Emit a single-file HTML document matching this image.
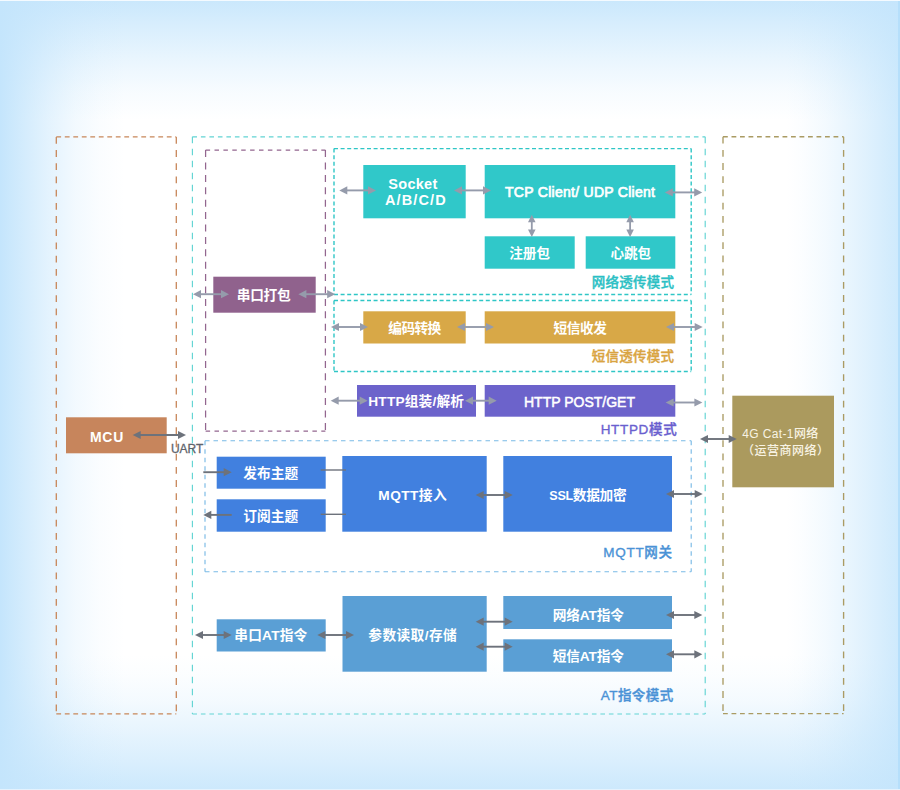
<!DOCTYPE html>
<html lang="zh-CN">
<head>
<meta charset="utf-8">
<title>4G Cat-1 DTU 工作模式框图</title>
<style>
html,body{margin:0;padding:0;}
body{width:900px;height:790px;overflow:hidden;background:#fff;font-family:"Liberation Sans", "Noto Sans CJK SC", sans-serif;}
.bg{position:absolute;left:0;top:0;width:900px;height:790px;background:
 linear-gradient(to right, rgba(196,229,252,1) 0px, rgba(196,229,252,0.72) 25px, rgba(196,229,252,0.45) 50px, rgba(196,229,252,0.22) 75px, rgba(196,229,252,0.08) 100px, rgba(196,229,252,0) 125px),
 linear-gradient(to left, rgba(196,229,252,0.84) 0px, rgba(196,229,252,0.64) 22px, rgba(196,229,252,0.43) 46px, rgba(196,229,252,0.2) 74px, rgba(196,229,252,0.06) 98px, rgba(196,229,252,0) 114px),
 linear-gradient(to bottom, rgba(196,229,252,0.9) 0px, rgba(196,229,252,0.62) 30px, rgba(196,229,252,0.36) 60px, rgba(196,229,252,0.14) 90px, rgba(196,229,252,0) 120px),
 linear-gradient(to top, rgba(196,229,252,0.86) 0px, rgba(196,229,252,0.62) 30px, rgba(196,229,252,0.4) 60px, rgba(196,229,252,0.18) 90px, rgba(196,229,252,0.06) 115px, rgba(196,229,252,0) 135px),
 #fff;}
.edge{position:absolute;}
svg{position:absolute;left:0;top:0;}
svg text{font-family:"Liberation Sans", "Noto Sans CJK SC", sans-serif;}
</style>
</head>
<body>
<div class="bg"></div>
<div class="edge" style="left:898px;top:0;width:2px;height:790px;background:#b6dffb"></div>
<div class="edge" style="left:0;top:0;width:900px;height:1px;background:#f4faff"></div>
<div class="edge" style="left:0;top:789px;width:900px;height:1px;background:#e4f2fd"></div>
<svg width="900" height="790" viewBox="0 0 900 790">
<g fill="none" stroke="#c8875a" stroke-width="1.3" stroke-opacity="1">
<path d="M56.3 136.9H176.3M56.3 713.9H176.3" stroke-dasharray="4.8 3.7"/>
<path d="M56.3 136.9V713.9M176.3 136.9V713.9" stroke-dasharray="6.8 6.4"/>
</g>
<g fill="none" stroke="#62d4d3" stroke-width="1.15" stroke-opacity="1">
<path d="M192.4 136.8H705.2M192.4 714H705.2" stroke-dasharray="4.6 3.9"/>
<path d="M192.4 136.8V714M705.2 136.8V714" stroke-dasharray="6.5 5.5"/>
</g>
<g fill="none" stroke="#aa9b63" stroke-width="1.35" stroke-opacity="1">
<path d="M723 136.7H843.6M723 713.6H843.6" stroke-dasharray="4.8 3.7"/>
<path d="M723 136.7V713.6M843.6 136.7V713.6" stroke-dasharray="6.8 6.4"/>
</g>
<g fill="none" stroke="#93668f" stroke-width="1.25" stroke-opacity="1">
<path d="M205.6 150.1H325.4M205.6 431H325.4" stroke-dasharray="4.5 4.4"/>
<path d="M205.6 150.1V431M325.4 150.1V431" stroke-dasharray="7 5.4"/>
</g>
<g fill="none" stroke="#2fc6c6" stroke-width="1.4" stroke-opacity="1">
<path d="M334 148.6H691.2M334 294.5H691.2" stroke-dasharray="4 2.6"/>
<path d="M334 148.6V294.5M691.2 148.6V294.5" stroke-dasharray="4 2.6"/>
</g>
<g fill="none" stroke="#2fc6c6" stroke-width="1.4" stroke-opacity="1">
<path d="M334 300.5H691.2M334 371.5H691.2" stroke-dasharray="4 2.6"/>
<path d="M334 300.5V371.5M691.2 300.5V371.5" stroke-dasharray="4 2.6"/>
</g>
<g fill="none" stroke="#7abae6" stroke-width="1.15" stroke-opacity="1">
<path d="M205 440.7H691.2M205 571.7H691.2" stroke-dasharray="4.5 4"/>
<path d="M205 440.7V571.7M691.2 440.7V571.7" stroke-dasharray="4.5 4"/>
</g>
<rect x="66" y="417.3" width="100.7" height="36.0" fill="#c7855c"/>
<rect x="213.3" y="276.7" width="102.4" height="36.0" fill="#90628d"/>
<rect x="363.3" y="165" width="102.4" height="53.3" fill="#30c8c9"/>
<rect x="484.7" y="165" width="190.6" height="53.3" fill="#30c8c9"/>
<rect x="484.7" y="236.3" width="90.0" height="32.4" fill="#30c8c9"/>
<rect x="585.7" y="236.3" width="89.6" height="32.4" fill="#30c8c9"/>
<rect x="363.3" y="311.3" width="102.4" height="32.2" fill="#d8a847"/>
<rect x="484.7" y="311.3" width="190.6" height="32.2" fill="#d8a847"/>
<rect x="357" y="385" width="119" height="31.7" fill="#6c63cb"/>
<rect x="484.7" y="385" width="190.6" height="31.7" fill="#6c63cb"/>
<rect x="216.7" y="456.7" width="109.0" height="32.0" fill="#4180df"/>
<rect x="216.7" y="499.3" width="109.0" height="32.4" fill="#4180df"/>
<rect x="342.3" y="456" width="144.4" height="75.7" fill="#4180df"/>
<rect x="503.3" y="456" width="168.7" height="75.7" fill="#4180df"/>
<rect x="216.7" y="619.3" width="109.0" height="32.2" fill="#5a9fd5"/>
<rect x="342.5" y="596" width="144.2" height="75.7" fill="#5a9fd5"/>
<rect x="503.3" y="596" width="168.7" height="33" fill="#5a9fd5"/>
<rect x="503.3" y="639.3" width="168.7" height="32.4" fill="#5a9fd5"/>
<rect x="732.3" y="395.7" width="101.7" height="91.6" fill="#ab9a5e"/>
<text x="90" y="441.71" font-size="14" fill="#fff" font-weight="bold" textLength="33.3" lengthAdjust="spacing" >MCU</text>
<text x="236.7" y="300.21" font-size="13.7" fill="#fff" font-weight="bold" textLength="54.0" lengthAdjust="spacing" >串口打包</text>
<text x="388.3" y="189.49" font-size="14.5" fill="#fff" font-weight="bold" textLength="49.0" lengthAdjust="spacing" >Socket</text>
<text x="385" y="205.19" font-size="14.5" fill="#fff" font-weight="bold" textLength="60.7" lengthAdjust="spacing" >A/B/C/D</text>
<text x="505" y="197.01" font-size="14" fill="#fff" font-weight="normal" textLength="150" lengthAdjust="spacing" stroke="#fff" stroke-width="0.7">TCP Client/ UDP Client</text>
<text x="509.3" y="257.91" font-size="13.7" fill="#fff" font-weight="bold" textLength="40.7" lengthAdjust="spacing" >注册包</text>
<text x="610.5" y="257.91" font-size="13.7" fill="#fff" font-weight="bold" textLength="40.5" lengthAdjust="spacing" >心跳包</text>
<text x="388.3" y="333.21" font-size="13.7" fill="#fff" font-weight="bold" textLength="53.0" lengthAdjust="spacing" >编码转换</text>
<text x="553.5" y="333.21" font-size="13.7" fill="#fff" font-weight="bold" textLength="53.5" lengthAdjust="spacing" >短信收发</text>
<text x="368.3" y="405.91" font-size="13.7" fill="#fff" font-weight="bold" textLength="95.7" lengthAdjust="spacing" >HTTP组装/解析</text>
<text x="524" y="406.71" font-size="14" fill="#fff" font-weight="normal" textLength="111" lengthAdjust="spacing" stroke="#fff" stroke-width="0.5">HTTP POST/GET</text>
<text x="243.3" y="477.91" font-size="13.7" fill="#fff" font-weight="bold" textLength="55.0" lengthAdjust="spacing" >发布主题</text>
<text x="243.3" y="520.91" font-size="13.7" fill="#fff" font-weight="bold" textLength="55.0" lengthAdjust="spacing" >订阅主题</text>
<text x="378.3" y="500.21" font-size="13.7" fill="#fff" font-weight="bold" textLength="68.4" lengthAdjust="spacing" >MQTT接入</text>
<text x="549.3" y="500.21" font-size="13.7" fill="#fff" font-weight="bold" textLength="77.4" lengthAdjust="spacing" ><tspan font-size="12.6">SSL</tspan>数据加密</text>
<text x="234.3" y="640.01" font-size="13.7" fill="#fff" font-weight="bold" textLength="73.0" lengthAdjust="spacing" >串口AT指令</text>
<text x="368.3" y="640.01" font-size="13.7" fill="#fff" font-weight="bold" textLength="88.4" lengthAdjust="spacing" >参数读取/存储</text>
<text x="552.7" y="619.51" font-size="13.7" fill="#fff" font-weight="bold" textLength="71.3" lengthAdjust="spacing" >网络AT指令</text>
<text x="552.7" y="660.91" font-size="13.7" fill="#fff" font-weight="bold" textLength="71.3" lengthAdjust="spacing" >短信AT指令</text>
<text x="742.3" y="438.26" font-size="12" fill="#f8f3e3" font-weight="500" textLength="76.0" lengthAdjust="spacing" >4G Cat-1网络</text>
<text x="742.1" y="455.2" font-size="12" fill="#f8f3e3" font-weight="500" letter-spacing="0.5">（运营商网络）</text>
<text x="591.7" y="287.43" font-size="13.5" fill="#2bbfc4" font-weight="500" textLength="82.3" lengthAdjust="spacing" stroke="#2bbfc4" stroke-width="0.35">网络透传模式</text>
<text x="591.7" y="360.83" font-size="13.5" fill="#d9a441" font-weight="500" textLength="82.3" lengthAdjust="spacing" stroke="#d9a441" stroke-width="0.35">短信透传模式</text>
<text x="600.7" y="434.43" font-size="13.5" fill="#6a5fcf" font-weight="500" textLength="76.0" lengthAdjust="spacing" stroke="#6a5fcf" stroke-width="0.35">HTTPD模式</text>
<text x="603.3" y="557.13" font-size="13.5" fill="#4a92d6" font-weight="500" textLength="68.7" lengthAdjust="spacing" stroke="#4a92d6" stroke-width="0.35">MQTT网关</text>
<text x="600.7" y="700.13" font-size="13.5" fill="#4a92d6" font-weight="500" textLength="72.6" lengthAdjust="spacing" stroke="#4a92d6" stroke-width="0.35">AT指令模式</text>
<text x="171" y="453.3" font-size="12" fill="#5f646b" font-weight="normal" textLength="32.3" lengthAdjust="spacing" stroke="#5f646b" stroke-width="0.3">UART</text>
<line x1="139.7" y1="435" x2="179" y2="435" stroke="#6d727b" stroke-width="1.9"/>
<polygon points="132.7,435 140.7,430.9 140.7,439.1" fill="#6d727b"/>
<polygon points="186,435 178,430.9 178,439.1" fill="#6d727b"/>
<line x1="200" y1="294.2" x2="222" y2="294.2" stroke="#959bab" stroke-width="1.9"/>
<polygon points="193,294.2 201,290.09999999999997 201,298.3" fill="#959bab"/>
<polygon points="229,294.2 221,290.09999999999997 221,298.3" fill="#959bab"/>
<line x1="305.4" y1="294.2" x2="328.2" y2="294.2" stroke="#959bab" stroke-width="1.9"/>
<polygon points="298.4,294.2 306.4,290.09999999999997 306.4,298.3" fill="#959bab"/>
<polygon points="335.2,294.2 327.2,290.09999999999997 327.2,298.3" fill="#959bab"/>
<line x1="346.3" y1="190.4" x2="369" y2="190.4" stroke="#959bab" stroke-width="1.9"/>
<polygon points="339.3,190.4 347.3,186.3 347.3,194.5" fill="#959bab"/>
<polygon points="376,190.4 368,186.3 368,194.5" fill="#959bab"/>
<line x1="461" y1="190.4" x2="484" y2="190.4" stroke="#959bab" stroke-width="1.9"/>
<polygon points="454,190.4 462,186.3 462,194.5" fill="#959bab"/>
<polygon points="491,190.4 483,186.3 483,194.5" fill="#959bab"/>
<line x1="671.8" y1="192.4" x2="695.2" y2="192.4" stroke="#959bab" stroke-width="1.9"/>
<polygon points="664.8,192.4 672.8,188.3 672.8,196.5" fill="#959bab"/>
<polygon points="702.2,192.4 694.2,188.3 694.2,196.5" fill="#959bab"/>
<line x1="531.8" y1="221.3" x2="531.8" y2="230.5" stroke="#959bab" stroke-width="1.8"/>
<polygon points="531.8,214.8 528.0,222.3 535.5999999999999,222.3" fill="#959bab"/>
<polygon points="531.8,237 528.0,229.5 535.5999999999999,229.5" fill="#959bab"/>
<line x1="630.1" y1="221.3" x2="630.1" y2="230.5" stroke="#959bab" stroke-width="1.8"/>
<polygon points="630.1,214.8 626.3000000000001,222.3 633.9,222.3" fill="#959bab"/>
<polygon points="630.1,237 626.3000000000001,229.5 633.9,229.5" fill="#959bab"/>
<line x1="338" y1="327" x2="361" y2="327" stroke="#959bab" stroke-width="1.9"/>
<polygon points="331,327 339,322.9 339,331.1" fill="#959bab"/>
<polygon points="368,327 360,322.9 360,331.1" fill="#959bab"/>
<line x1="464" y1="327" x2="487" y2="327" stroke="#959bab" stroke-width="1.9"/>
<polygon points="457,327 465,322.9 465,331.1" fill="#959bab"/>
<polygon points="494,327 486,322.9 486,331.1" fill="#959bab"/>
<line x1="673" y1="327" x2="695.7" y2="327" stroke="#959bab" stroke-width="1.9"/>
<polygon points="666,327 674,322.9 674,331.1" fill="#959bab"/>
<polygon points="702.7,327 694.7,322.9 694.7,331.1" fill="#959bab"/>
<line x1="337.7" y1="400.7" x2="360.7" y2="400.7" stroke="#959bab" stroke-width="1.9"/>
<polygon points="330.7,400.7 338.7,396.59999999999997 338.7,404.8" fill="#959bab"/>
<polygon points="367.7,400.7 359.7,396.59999999999997 359.7,404.8" fill="#959bab"/>
<line x1="472" y1="400.7" x2="489.7" y2="400.7" stroke="#959bab" stroke-width="1.9"/>
<polygon points="465,400.7 473,396.59999999999997 473,404.8" fill="#959bab"/>
<polygon points="496.7,400.7 488.7,396.59999999999997 488.7,404.8" fill="#959bab"/>
<line x1="672.6" y1="402.5" x2="695.4" y2="402.5" stroke="#959bab" stroke-width="1.9"/>
<polygon points="665.6,402.5 673.6,398.4 673.6,406.6" fill="#959bab"/>
<polygon points="702.4,402.5 694.4,398.4 694.4,406.6" fill="#959bab"/>
<line x1="707" y1="439" x2="729.7" y2="439" stroke="#6d727b" stroke-width="1.9"/>
<polygon points="700,439 708,434.9 708,443.1" fill="#6d727b"/>
<polygon points="736.7,439 728.7,434.9 728.7,443.1" fill="#6d727b"/>
<line x1="203.3" y1="472.2" x2="224.7" y2="472.2" stroke="#6d727b" stroke-width="1.9"/>
<polygon points="231.7,472.2 223.7,468.09999999999997 223.7,476.3" fill="#6d727b"/>
<line x1="210.3" y1="514.9" x2="231.7" y2="514.9" stroke="#6d727b" stroke-width="1.9"/>
<polygon points="203.3,514.9 211.3,510.79999999999995 211.3,519.0" fill="#6d727b"/>
<line x1="320.7" y1="470" x2="346" y2="470" stroke="#6d727b" stroke-width="1.4"/>
<line x1="320.7" y1="514.3" x2="346" y2="514.3" stroke="#6d727b" stroke-width="1.4"/>
<line x1="482.7" y1="495" x2="505.70000000000005" y2="495" stroke="#6d727b" stroke-width="1.9"/>
<polygon points="475.7,495 483.7,490.9 483.7,499.1" fill="#6d727b"/>
<polygon points="512.7,495 504.70000000000005,490.9 504.70000000000005,499.1" fill="#6d727b"/>
<line x1="673" y1="494" x2="695.7" y2="494" stroke="#6d727b" stroke-width="1.9"/>
<polygon points="666,494 674,489.9 674,498.1" fill="#6d727b"/>
<polygon points="702.7,494 694.7,489.9 694.7,498.1" fill="#6d727b"/>
<line x1="202" y1="635" x2="224.7" y2="635" stroke="#6d727b" stroke-width="1.9"/>
<polygon points="195,635 203,630.9 203,639.1" fill="#6d727b"/>
<polygon points="231.7,635 223.7,630.9 223.7,639.1" fill="#6d727b"/>
<line x1="324.3" y1="635" x2="347" y2="635" stroke="#6d727b" stroke-width="1.9"/>
<polygon points="317.3,635 325.3,630.9 325.3,639.1" fill="#6d727b"/>
<polygon points="354,635 346,630.9 346,639.1" fill="#6d727b"/>
<line x1="482.7" y1="621.7" x2="505.70000000000005" y2="621.7" stroke="#6d727b" stroke-width="1.9"/>
<polygon points="475.7,621.7 483.7,617.6 483.7,625.8000000000001" fill="#6d727b"/>
<polygon points="512.7,621.7 504.70000000000005,617.6 504.70000000000005,625.8000000000001" fill="#6d727b"/>
<line x1="482.7" y1="646.7" x2="505.70000000000005" y2="646.7" stroke="#6d727b" stroke-width="1.9"/>
<polygon points="475.7,646.7 483.7,642.6 483.7,650.8000000000001" fill="#6d727b"/>
<polygon points="512.7,646.7 504.70000000000005,642.6 504.70000000000005,650.8000000000001" fill="#6d727b"/>
<line x1="673" y1="615" x2="695.3" y2="615" stroke="#6d727b" stroke-width="1.9"/>
<polygon points="666,615 674,610.9 674,619.1" fill="#6d727b"/>
<polygon points="702.3,615 694.3,610.9 694.3,619.1" fill="#6d727b"/>
<line x1="673" y1="654.3" x2="695.3" y2="654.3" stroke="#6d727b" stroke-width="1.9"/>
<polygon points="666,654.3 674,650.1999999999999 674,658.4" fill="#6d727b"/>
<polygon points="702.3,654.3 694.3,650.1999999999999 694.3,658.4" fill="#6d727b"/>
</svg>
</body>
</html>
